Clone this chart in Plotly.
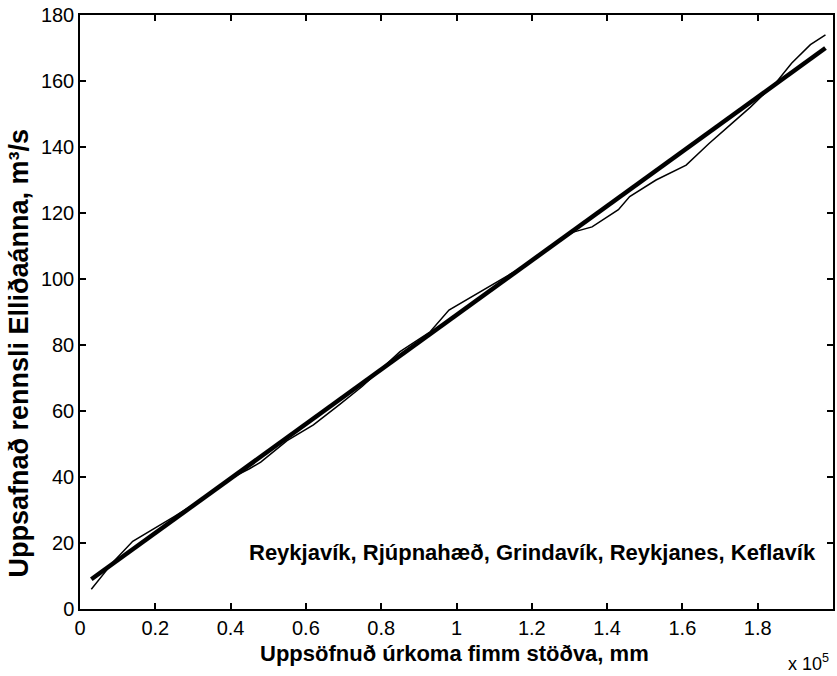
import plotly.graph_objects as go

# Thin line: observed cumulative (x in units of 10^5 mm)
obs_x = [0.03, 0.09, 0.14, 0.20, 0.25, 0.32, 0.39, 0.45, 0.48, 0.55, 0.62, 0.69, 0.75,
         0.85, 0.93, 0.98, 1.08, 1.17, 1.25, 1.31, 1.36, 1.43, 1.46, 1.53, 1.61, 1.67,
         1.73, 1.78, 1.85, 1.89, 1.94, 1.98]
obs_y = [6, 14.5, 20.5, 24.5, 28, 33, 39, 42.5, 44.5, 51, 55.8, 62, 67.5,
         78, 84, 90.6, 97.3, 103.3, 110, 114.2, 115.8, 121, 125, 130, 134.5, 141,
         147, 152, 159.7, 165.4, 171, 174]

# Thick line: fitted straight line
fit_x = [0.03, 1.98]
fit_y = [9, 170]

x_ticks = [0, 0.2, 0.4, 0.6, 0.8, 1.0, 1.2, 1.4, 1.6, 1.8, 2.0]
x_ticktext = ["0", "0.2", "0.4", "0.6", "0.8", "1", "1.2", "1.4", "1.6", "1.8", "2"]
y_ticks = [0, 20, 40, 60, 80, 100, 120, 140, 160, 180]

FONT = "Liberation Sans, Arial, Helvetica, sans-serif"

fig = go.Figure()
fig.add_trace(go.Scatter(x=fit_x, y=fit_y, mode="lines",
                         line=dict(color="black", width=4.5), showlegend=False))
fig.add_trace(go.Scatter(x=obs_x, y=obs_y, mode="lines",
                         line=dict(color="black", width=1.5), showlegend=False))

axis_common = dict(showgrid=False, zeroline=False, showline=True, linecolor="black",
                   linewidth=1.5, mirror="ticks", ticks="inside", ticklen=6,
                   tickwidth=1.5, tickcolor="black",
                   tickfont=dict(family=FONT, size=20, color="black"))

fig.update_xaxes(range=[0, 2], tickvals=x_ticks, ticktext=x_ticktext, **axis_common)
fig.update_yaxes(range=[0, 180], tickvals=y_ticks, **axis_common)

# Axis titles
fig.add_annotation(x=0.497, y=0, xref="paper", yref="paper", xanchor="center",
                   yanchor="middle", yshift=-44,
                   text="<b>Uppsöfnuð úrkoma fimm stöðva, mm</b>", showarrow=False,
                   font=dict(family=FONT, size=22, color="black"))
fig.add_annotation(x=0, y=0.43, xref="paper", yref="paper", xanchor="center",
                   yanchor="middle", xshift=-61, textangle=-90,
                   text="<b>Uppsafnað rennsli Elliðaánna, m³/s</b>", showarrow=False,
                   font=dict(family=FONT, size=27, color="black"))

fig.add_annotation(x=1.96, y=17, xref="x", yref="y", xanchor="right", yanchor="middle",
                   text="<b>Reykjavík, Rjúpnahæð, Grindavík, Reykjanes, Keflavík</b>",
                   showarrow=False, font=dict(family=FONT, size=22, color="black"))
fig.add_annotation(x=1.0, y=0, xref="paper", yref="paper", xanchor="right", yanchor="middle",
                   yshift=-53, xshift=-2, text="x 10<sup>5</sup>", showarrow=False,
                   font=dict(family=FONT, size=18, color="black"))

fig.update_layout(width=837, height=676, margin=dict(l=80, r=2, t=15, b=67),
                  paper_bgcolor="white", plot_bgcolor="white")

fig.write_html("out.html")
